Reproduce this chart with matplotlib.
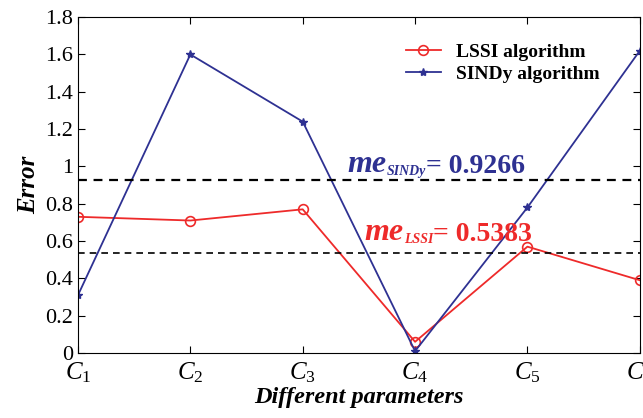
import matplotlib
matplotlib.use("Agg")
import matplotlib.pyplot as plt
from matplotlib.ticker import FormatStrFormatter

plt.rcParams['font.family'] = 'Liberation Serif'
plt.rcParams['mathtext.fontset'] = 'custom'
plt.rcParams['mathtext.it'] = 'Liberation Serif:italic'
plt.rcParams['mathtext.rm'] = 'Liberation Serif'

params = ['$C_1$', '$C_2$', '$C_3$', '$C_4$', '$C_5$', '$C_6$']
lssi = [0.73, 0.71, 0.77, 0.06, 0.57, 0.39]
sindy = [0.31, 1.60, 1.24, 0.01, 0.78, 1.62]
me_lssi = 0.5383
me_sindy = 0.9266

red = '#ee2a2a'
blue = '#2e3192'
x = list(range(1, len(params) + 1))

fig = plt.figure(figsize=(6.43, 4.18), dpi=100)
ax = fig.add_axes([0.1213, 0.1555, 0.8737, 0.8035])

ax.plot(x, lssi, color=red, lw=1.3, marker='o', ms=7, mfc='none', mec=red,
        mew=1.2, label='LSSI algorithm')
ax.plot(x, sindy, color=blue, lw=1.3, marker='*', ms=6, mfc=blue, mec=blue,
        label='SINDy algorithm')
ax.axhline(me_sindy, color='black', ls=(0, (4, 3)), lw=1.6)
ax.axhline(me_lssi, color='black', ls=(0, (4, 3)), lw=1.2)


def mean_label(xpos, ypos, sub, value, color):
    bold_it = dict(fontweight='bold', fontstyle='italic', color=color)
    t1 = ax.text(xpos, ypos, 'me', fontsize=23, va='baseline', **bold_it)
    t2 = ax.annotate(sub, xy=(1, 0), xycoords=t1, xytext=(0, 1),
                     textcoords='offset points', fontsize=10, va='bottom',
                     **bold_it)
    ax.annotate('= ' + value, xy=(1, 0), xycoords=(t2, t1), fontsize=20,
                va='bottom', fontweight='bold', color=color)


mean_label(3.4, 0.97, 'SINDy', '%.4f' % me_sindy, blue)
mean_label(3.55, 0.605, 'LSSI', '%.4f' % me_lssi, red)

ax.set_xlim(1, 6)
ax.set_ylim(0, 1.8)
ax.set_xticks(x)
ax.set_xticklabels(params)
ax.set_yticks([i * 0.2 for i in range(10)])
ax.yaxis.set_major_formatter(FormatStrFormatter('%g'))
ax.tick_params(direction='in', top=True, right=True, labelsize=16, length=5)
ax.tick_params(axis='x', pad=5, labelsize=18)
ax.set_xlabel('Different parameters', fontsize=17.5, fontweight='bold',
              fontstyle='italic', labelpad=2)
ax.set_ylabel('Error', fontsize=18, fontweight='bold', fontstyle='italic')

leg = ax.legend(loc='upper right', bbox_to_anchor=(0.96, 0.975), frameon=False,
                prop={'weight': 'bold', 'size': 14}, handlelength=1.8,
                labelspacing=0.25)

fig.savefig('out.png', dpi=100)
